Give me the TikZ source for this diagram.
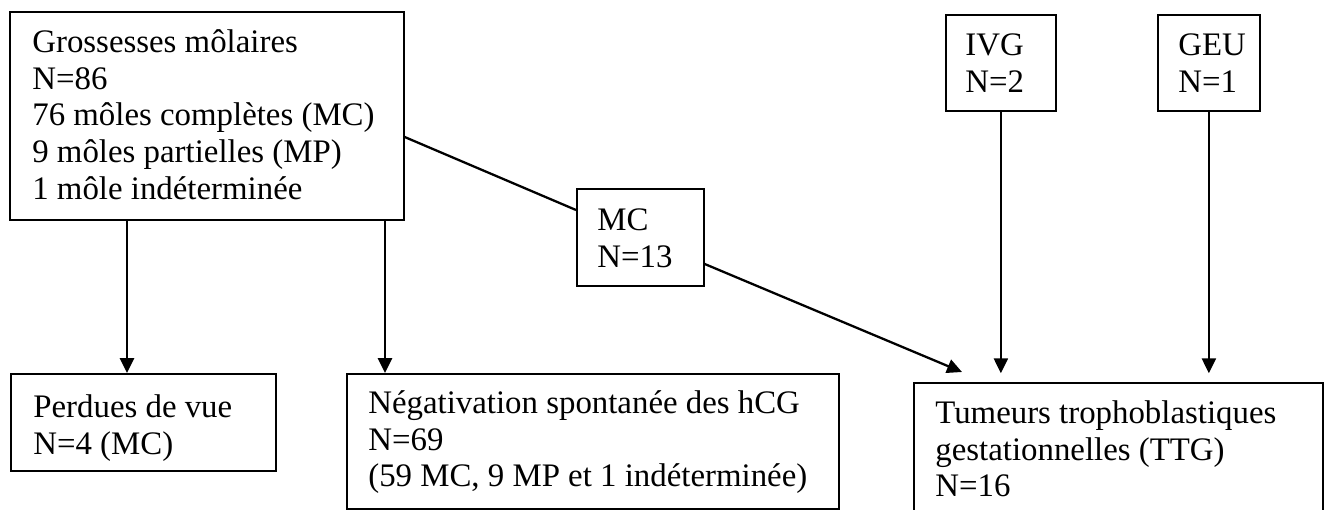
\documentclass[tikz,border=0pt]{standalone}
\usepackage{fontspec}
\setmainfont{Liberation Serif}
\usetikzlibrary{arrows.meta, calc}
\tikzset{
    box/.style={rectangle, draw=black, line width=1pt, inner sep=0pt, anchor=north west},
    txt/.style={anchor=north west, inner sep=0pt, align=left, font=\fontsize{18.7}{21}\selectfont},
    ln/.style={line width=1.3pt, color=black},
    arr/.style={-{Triangle[length=8.5pt, width=8pt]}, line width=1.3pt, color=black}
}

\begin{document}
\begin{tikzpicture}[x=0.02cm, y=-0.02cm]
        % Page frame
        \useasboundingbox (0,0) rectangle (1325,510);
        \clip (0,0) rectangle (1325,510);

        % Boxes
        \node[box, minimum width=7.88cm, minimum height=4.16cm] (gross) at (9,11) {};
        \node[txt] (gross-txt) at (32,26) {\strut Grossesses môlaires\\N=86\\76 môles complètes (MC)\\9 môles partielles (MP)\\1 môle indéterminée};

        \node[box, minimum width=5.3cm, minimum height=1.94cm] (perdues) at (10,373) {};
        \node[txt] (perdues-txt) at (33,391) {\strut Perdues de vue\\N=4 (MC)};

        \node[box, minimum width=9.84cm, minimum height=2.7cm] (negat) at (346,373) {};
        \node[txt] (negat-txt) at (368,387) {\strut Négativation spontanée des hCG\\N=69\\(59 MC, 9 MP et 1 indéterminée)};

        \node[box, minimum width=2.54cm, minimum height=1.94cm] (mcbox) at (576,188) {};
        \node[txt] (mcbox-txt) at (597,204) {\strut MC\\N=13};

        \node[box, minimum width=2.2cm, minimum height=1.92cm] (ivg) at (945,14) {};
        \node[txt] (ivg-txt) at (965,29) {\strut IVG\\N=2};

        \node[box, minimum width=2.04cm, minimum height=1.92cm] (geu) at (1157,14) {};
        \node[txt] (geu-txt) at (1178,29) {\strut GEU\\N=1};

        \node[box, minimum width=8.18cm, minimum height=3.0cm] (ttg) at (913,382) {};
        \node[txt] (ttg-txt) at (935,397) {\strut Tumeurs trophoblastiques\\gestationnelles (TTG)\\N=16};

        % Connectors
        \coordinate (g1) at ([shift={(118,0)}]gross.south west);
        \coordinate (g2) at ([shift={(376,0)}]gross.south west);
        \draw[arr] (g1) -- (g1 |- perdues.north);
        \draw[arr] (g2) -- (g2 |- negat.north);
        \draw[ln] ([shift={(0,126)}]gross.north east) -- ([shift={(0,22)}]mcbox.north west);
        \draw[arr] ([shift={(0,76)}]mcbox.north east) -- ([shift={(49,-10)}]ttg.north west);
        \draw[arr, shorten >=5pt] (ivg.south) -- (ivg.south |- ttg.north);
        \draw[arr, shorten >=5pt] (geu.south) -- (geu.south |- ttg.north);
\end{tikzpicture}
\end{document}
